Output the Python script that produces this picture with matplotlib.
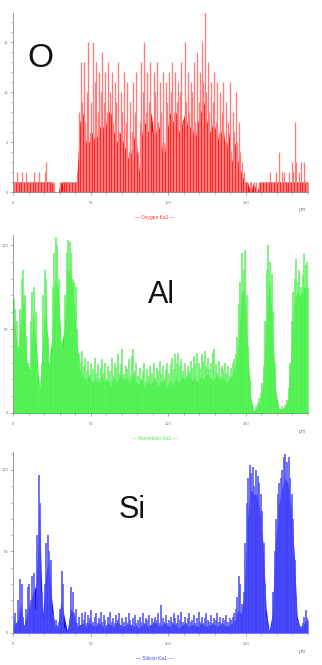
import numpy as np
import matplotlib
matplotlib.use("Agg")
import matplotlib.pyplot as plt
from matplotlib.ticker import MultipleLocator

plt.rcParams['font.family'] = ['Liberation Sans', 'DejaVu Sans']

# ---------------- data (counts per micrometre step) ----------------
x_um = np.arange(190)          # 1 um steps
x_base = np.arange(0, 190, 2)  # 2 um steps

o_peak = [1,1,2,1,1,2,1,1,2,1,1,1,1,2,1,1,2,1,1,1,2,3,1,1,1,1,1,0,0,0,1,0,1,1,1,1,1,1,1,1,1,2,
          8,13,9,13,7,10,15,6,9,15,11,13,8,12,10,14,9,12,8,13,10,12,7,11,9,13,6,10,8,12,7,11,4,9,
          6,11,8,12,4,7,13,10,15,8,12,9,13,6,12,10,13,7,11,8,12,5,11,9,12,10,13,8,12,9,11,10,13,7,
          15,9,12,8,11,10,13,7,14,9,12,15,11,18,10,13,8,11,9,12,7,11,6,10,8,11,5,9,7,11,4,8,6,10,
          5,7,4,3,
          2,1,1,0,1,1,0,1,1,0,1,1,1,1,1,1,1,2,1,1,1,2,1,4,1,2,2,1,1,2,1,3,2,7,3,1,2,3,1,3,1,1]
o_base = [1,1,1,1,1,1,1,1,1,1,1,1,1,0,0,1,1,1,1,1,1,
          7,8,5,5,6,5,6,7,6,8,8,6,5,6,5,4,3,5,6,2,6,7,6,8,5,7,6,3,6,8,7,8,6,7,8,6,7,5,7,8,9,7,6,
          7,6,5,7,4,6,3,5,3,2,
          1,1,0,1,0,1,1,1,1,1,1,1,1,1,1,1,1,1,1,1,1]

al_peak = [68,62,55,40,62,80,85,70,45,30,25,55,72,75,60,35,18,14,30,70,85,80,45,30,35,75,95,105,
           100,80,55,42,40,70,95,103,102,95,80,78,75,50,35,
           30,37,28,33,25,31,22,30,26,33,24,29,21,27,32,24,30,20,28,25,33,22,30,27,35,24,29,38,
           23,28,26,32,22,34,38,25,30,22,27,20,25,30,19,26,22,28,24,30,21,27,25,31,23,28,20,26,
           30,24,29,33,26,35,30,36,28,32,25,30,22,28,25,31,27,34,29,36,30,26,35,31,37,28,33,26,
           30,36,38,29,24,31,22,28,26,30,24,28,22,27,
           30,32,35,45,65,78,95,85,97,70,40,20,8,3,2,4,6,9,12,18,28,55,85,100,90,83,60,30,12,5,3,
           2,4,3,5,8,15,30,55,72,80,92,78,85,75,82,95,88,90]
al_base = [55,35,55,70,30,25,60,40,12,40,70,28,45,80,75,40,50,85,85,70,45,
           25,22,20,23,18,21,17,22,19,20,16,21,18,23,20,22,18,24,19,17,20,15,19,17,21,16,18,20,
           15,19,17,21,18,22,20,24,19,21,18,22,20,24,21,19,23,20,22,18,20,22,
           28,40,70,75,40,10,1,3,7,18,55,80,55,15,3,2,3,8,35,65,72,70,75,75]

si_peak = [8,12,6,20,33,30,10,5,15,28,30,20,35,37,15,60,97,80,25,10,30,55,60,50,45,12,6,8,5,7,
           15,38,30,3,1,2,8,28,25,12,15,6,
           10,5,12,8,13,6,11,9,14,7,10,12,6,9,13,7,11,8,5,10,13,7,9,6,11,8,12,5,9,7,10,6,12,8,
           5,9,11,6,8,10,7,12,6,9,8,11,5,9,7,10,8,12,6,17,9,7,11,6,8,10,7,12,9,6,11,8,13,7,10,6,
           9,12,7,8,11,6,9,13,7,10,6,9,12,8,7,11,6,9,8,12,7,10,6,9,8,11,7,9,8,10,
           12,15,22,35,30,18,25,55,80,95,103,98,102,90,100,96,92,85,75,55,30,10,3,2,5,25,50,70,
           85,92,95,100,108,110,105,108,95,85,70,45,20,8,5,4,6,10,14,9]
si_base = [5,8,18,4,12,18,25,30,75,10,35,45,20,4,4,20,10,1,15,12,4,
           5,6,4,7,5,4,6,5,3,6,5,4,7,5,4,5,6,4,5,3,5,6,4,5,7,5,4,6,5,4,6,5,3,5,6,4,5,5,4,6,5,4,
           5,6,4,5,6,4,5,6,
           8,14,12,25,70,88,85,85,75,55,15,1,12,55,78,88,95,92,78,50,10,3,5,8]

panels = [
    dict(peak=o_peak, base=o_base, ymax=17.9, major=5, minor=1, c='#ff0000', pale='#ff7a7a',
         name='Oxygen Ka1', tag='O', tagpos=(40, 67), top=13, bottom=192, fs=24, lw=0.95),
    dict(peak=al_peak, base=al_base, ymax=106, major=50, minor=10, c='#1eee1e', pale='#5ff25f',
         name='Aluminium Ka1', tag='Al', tagpos=(161, 303), top=235, bottom=413, fs=22, lw=1.15),
    dict(peak=si_peak, base=si_base, ymax=111, major=50, minor=10, c='#1414f2', pale='#5050fa',
         name='Silicon Ka1', tag='Si', tagpos=(132, 518), top=452, bottom=633, fs=22, lw=1.15),
]

W, H = 322, 665
fig = plt.figure(figsize=(W / 100, H / 100), dpi=100)
left_px, right_px = 13, 308

for p in panels:
    ax = fig.add_axes([left_px / W, 1 - p['bottom'] / H, (right_px - left_px) / W,
                       (p['bottom'] - p['top']) / H])
    ax.vlines(x_um + 0.5, 0, p['peak'], color=p['pale'], lw=p['lw'])
    xb = np.concatenate([[0], x_base + 1, [190]])
    yb = np.concatenate([[p['base'][0]], p['base'], [p['base'][-1]]])
    ax.fill_between(xb, 0, yb, color=p['c'], lw=0)
    ax.set_xlim(0, 190)
    ax.set_ylim(0, p['ymax'])
    for s in ('top', 'right'):
        ax.spines[s].set_visible(False)
    for s in ('left', 'bottom'):
        ax.spines[s].set_color('#8a8a8a')
        ax.spines[s].set_linewidth(0.6)
    ax.xaxis.set_major_locator(MultipleLocator(50))
    ax.xaxis.set_minor_locator(MultipleLocator(10))
    ax.yaxis.set_major_locator(MultipleLocator(p['major']))
    ax.yaxis.set_minor_locator(MultipleLocator(p['minor']))
    ax.tick_params(which='both', colors='#8a8a8a', labelcolor='#777777', labelsize=3,
                   width=0.5, direction='out')
    ax.tick_params(axis='x', which='major', length=2.5, pad=4)
    ax.tick_params(axis='y', which='major', length=2.5, pad=1)
    ax.tick_params(which='minor', length=1.5)
    ax.patch.set_alpha(0)
    fig.text(302 / W, 1 - (p['bottom'] + 18) / H, 'μm', fontsize=3.5, color='#777777',
             ha='center', va='center')
    fig.text(155 / W, 1 - (p['bottom'] + 25) / H, '— ' + p['name'] + ' —', fontsize=3.5,
             color=p['c'], ha='center', va='center', alpha=0.8)
    fig.text(p['tagpos'][0] / W, 1 - p['tagpos'][1] / H, p['tag'], fontsize=p['fs'],
             color='#111111', ha='center', va='baseline')

fig.savefig('out.png', dpi=100)
